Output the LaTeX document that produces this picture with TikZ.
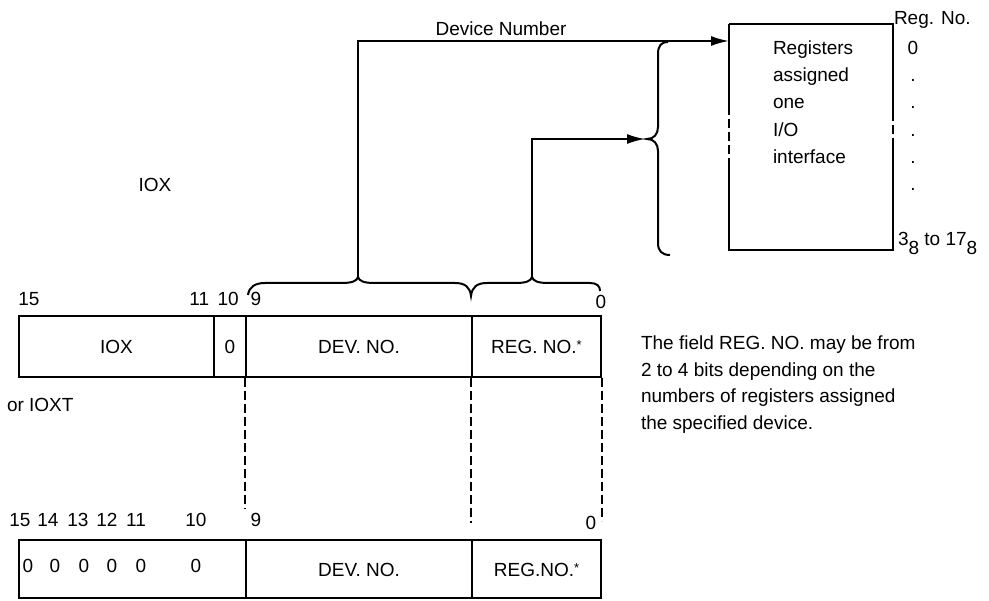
\documentclass[tikz,border=0pt]{standalone}
\usepackage{fontspec}
\setmainfont{Liberation Sans}
\usetikzlibrary{arrows.meta,calc}
\begin{document}
\begin{tikzpicture}[x=1pt,y=-1pt,line width=2pt,
  txt/.style={font=\fontsize{19}{22}\selectfont,inner sep=0pt},
  field/.style={draw,inner sep=0pt,anchor=west,minimum height=61pt,font=\fontsize{19}{22}\selectfont},
  fieldb/.style={draw,inner sep=0pt,anchor=west,minimum height=58pt,font=\fontsize{19}{22}\selectfont},
  dashline/.style={line width=1.5pt,dash pattern=on 9pt off 4pt},
  arr/.style={-{Latex[length=18pt,width=10pt]}}]
\useasboundingbox (0,0) rectangle (989,601);

% ---- IOX word ----
\node[field,minimum width=195pt] (iox) at (18,346.5) {IOX};
\node[field,minimum width=32pt] (zero) at (213,346.5) {0};
\node[field,minimum width=226pt] (dev) at (245,346.5) {DEV. NO.};
\node[field,minimum width=129pt] (regf) at (471,346.5) {REG. NO.\raisebox{4pt}{\fontsize{13}{13}\selectfont*}};

\node[txt] (b15) at (29,299) {15};
\node[txt] (b1110) at (214,299) {11\ \,10};
\node[txt] (b9) at (256,299) {9};
\node[txt] (b0) at (601,302) {0};

% ---- IOXT word ----
\node[fieldb,minimum width=227pt] (zeros) at (18,569.5) {};
\node[fieldb,minimum width=226pt] (dev2) at (245,569.5) {DEV. NO.};
\node[fieldb,minimum width=129pt] (reg2) at (471,569.5) {REG.NO.\raisebox{4pt}{\fontsize{13}{13}\selectfont*}};

\foreach \x/\t [count=\i] in {20/15,48/14,78/13,107/12,136/11,196/10}
  \node[txt] (c\i) at (\x,520) {\t};
\node[txt] (c9) at (256,520) {9};
\node[txt] (c0) at (591,523) {0};
\foreach \x [count=\i] in {28,55,84,112,141,196}
  \node[txt] (z\i) at (\x,566) {0};

% dashed guides
\draw[dashline] (dev.south west) -- ($(dev.south west)+(0,131)$);
\draw[dashline] (regf.south west) -- ($(regf.south west)+(0,145)$);
\draw[dashline] (regf.south east) -- ($(regf.south east)+(0,143)$);

% ---- brace over DEV. NO. / REG. NO. ----
\draw (248,295) .. controls (249,287) and (255,283) .. (265,283) -- (342,283)
  .. controls (352,283) and (357,281) .. (358,277) coordinate (tipDev)
  .. controls (359,281) and (364,283) .. (374,283) -- (455,283)
  .. controls (465,283) and (470,287) .. (471,296)
  .. controls (472,287) and (477,283) .. (487,283) -- (516,283)
  .. controls (526,283) and (531,281) .. (532,277) coordinate (tipReg)
  .. controls (533,281) and (538,283) .. (548,283) -- (590,283)
  .. controls (597,283) and (600,286) .. (600,291);

% ---- register box ----
\node[minimum width=162pt,minimum height=224pt,inner sep=0pt] (reg) at (811,137) {};
\draw (reg.north west) -- (reg.north east) -- ($(reg.north east)+(0,88)$);
\draw[dashline] ($(reg.north east)+(0,88)$) -- ($(reg.north east)+(0,115)$);
\draw ($(reg.north east)+(0,115)$) -- (reg.south east) -- (reg.south west) -- ($(reg.south west)+(0,-83)$);
\draw[dashline] ($(reg.south west)+(0,-83)$) -- ($(reg.north west)+(0,82)$);
\draw (reg.north west) -- ($(reg.north west)+(0,82)$);
\coordinate (regin) at ($(reg.north west)+(0,17)$);

\foreach \y/\t [count=\i] in {55/{Registers},82/{assigned},109/{one},137/{I/O},164/{interface}}
  \node[txt,anchor=base west] (r\i) at (772,\y) {\t};

\node[txt,anchor=west] (regno) at (893,20) {Reg. No.};
\node[txt] (rz) at (913,48) {0};
\foreach \y [count=\i] in {82,109,137,164,191}
  \node[txt,anchor=base] (d\i) at (913,\y) {.};
\node[txt,anchor=west] (range) at (897,243) {3\raisebox{-9pt}{8} to 17\raisebox{-9pt}{8}};

% ---- right brace ----
\draw (668,42) .. controls (661,42) and (658,46) .. (658,54) -- (658,127)
  .. controls (658,134) and (654,139) .. (647,139) coordinate (btip)
  .. controls (654,139) and (658,144) .. (658,151) -- (658,243)
  .. controls (658,251) and (662,255) .. (670,255);

% ---- connectors ----
\draw[arr] (tipDev) |- (regin);
\draw[arr,shorten >=2pt] (tipReg) |- (btip);
\node[txt] (devlbl) at (501,29) {Device Number};

% ---- labels ----
\node[txt] (ioxlbl) at (155,185) {IOX};
\node[txt,anchor=west] (ioxt) at (6,405) {or IOXT};
\foreach \y/\t [count=\i] in {345/{The field REG. NO. may be from},372/{2 to 4 bits depending on the},398/{numbers of registers assigned},425/{the specified device.}}
  \node[txt,anchor=west] (n\i) at (640,\y) {\t};
\end{tikzpicture}
\end{document}
